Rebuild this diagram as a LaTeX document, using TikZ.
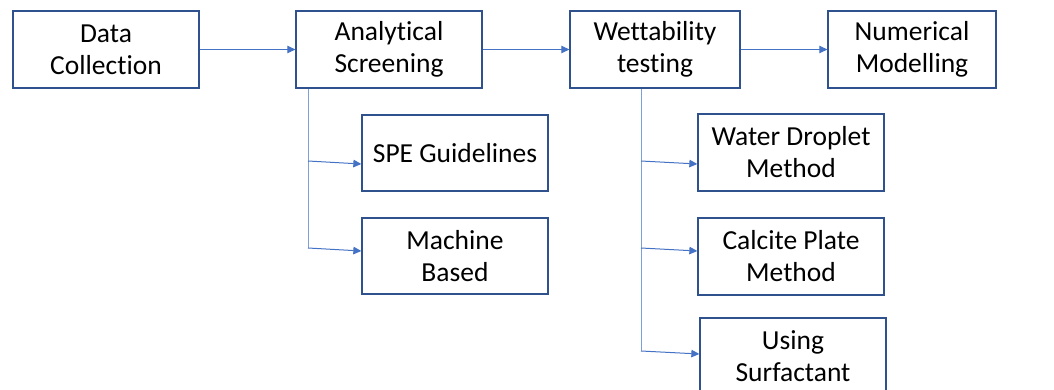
\documentclass[tikz,border=0pt]{standalone}
\usepackage{fontspec}
\setmainfont{Carlito}[Ligatures=NoCommon]
\usetikzlibrary{arrows.meta}
\definecolor{boxline}{HTML}{2F528F}
\definecolor{linkline}{HTML}{4472C4}
\definecolor{trunkline}{HTML}{7F9FD8}
\tikzset{
  stage/.style={draw=boxline, line width=1.3pt, fill=white, minimum width=#1, minimum height=77pt,
    inner sep=0pt, align=center, font=\fontsize{27.5}{32}\selectfont},
  stage/.default=186pt,
  link/.style={draw=linkline, line width=1pt, -{Triangle[length=8pt,width=7.5pt]}},
  trunk/.style={draw=trunkline, line width=1pt},
}
\begin{document}
\begin{tikzpicture}[x=1pt, y=-1pt]
  \useasboundingbox (0,0) rectangle (1054,390);
  \clip (0,0) rectangle (1054,390);

  % main chain
  \node[stage] (data) at (106,49.5) {Data\\Collection};
  \node[stage] (anal) at (389,49.5) {Analytical\\Screening};
  \node[stage=170pt] (wet) at (655,49.5) {Wettability\\testing};
  \node[stage=168pt] (num) at (912,49.5) {Numerical\\Modelling};

  % screening branches
  \node[stage, minimum height=76pt] (spe) at (455,153) {SPE Guidelines};
  \node[stage, minimum height=76pt] (mach) at (455,256) {Machine\\Based};

  % wettability branches
  \node[stage] (water) at (791,152.5) {Water Droplet\\Method};
  \node[stage] (calc) at (791,256.5) {Calcite Plate\\Method};
  \node[stage] (surf) at (793,356.5) {Using\\Surfactant};

  \draw[link] (data.east) -- (anal.west);
  \draw[link] (anal.east) -- (wet.west);
  \draw[link] (wet.east) -- (num.west);

  % trunks below the stages
  \coordinate (a1) at (308,161);
  \coordinate (a2) at (308,248);
  \coordinate (w1) at (641,161);
  \coordinate (w2) at (641,248);
  \coordinate (w3) at (641,351);

  \draw[trunk] (anal.south -| a1) -- (a2);
  \draw[trunk] (wet.south -| w1) -- (w3);

  \draw[link] (a1) -- ([yshift=-11pt]spe.west);
  \draw[link] (a2) -- ([yshift=5pt]mach.west);
  \draw[link] (w1) -- ([yshift=-11.5pt]water.west);
  \draw[link] (w2) -- ([yshift=5.5pt]calc.west);
  \draw[link] (w3) -- ([yshift=2.5pt]surf.west);
\end{tikzpicture}
\end{document}
